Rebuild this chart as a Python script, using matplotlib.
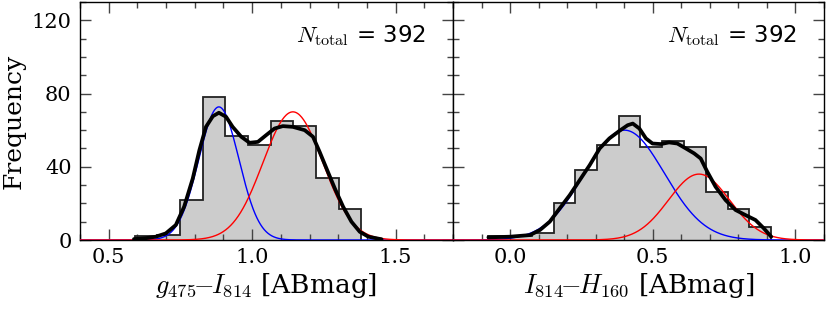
import numpy as np
import matplotlib
matplotlib.use("Agg")
import matplotlib.pyplot as plt
from matplotlib.ticker import MultipleLocator

plt.rcParams['font.family'] = 'DejaVu Serif'
plt.rcParams['mathtext.fontset'] = 'cm'

# ---------------- data ----------------
# left panel: g475 - I814
left_edges = [0.590, 0.669, 0.748, 0.827, 0.906, 0.985, 1.064, 1.143, 1.222, 1.301, 1.380]
left_counts = [2, 3, 22, 78, 57, 52, 65, 62, 34, 17]
left_kde_x = [0.588, 0.630, 0.664, 0.699, 0.734, 0.763, 0.793, 0.816, 0.839, 0.863, 0.884,
              0.909, 0.932, 0.962, 0.991, 1.020, 1.049, 1.078, 1.107, 1.142, 1.183, 1.212,
              1.235, 1.259, 1.288, 1.317, 1.346, 1.375, 1.405, 1.451]
left_kde_y = [0.5, 1.0, 1.8, 3.6, 8.2, 18.2, 33.6, 49.0, 61.8, 67.6, 69.5,
              67.3, 61.8, 56.4, 53.1, 53.6, 57.3, 60.9, 62.2, 61.8, 60.0, 56.4,
              48.2, 39.1, 28.2, 18.2, 10.0, 4.5, 1.8, 0.4]
left_blue = (0.884, 0.070, 72.7)   # mean, sigma, amplitude
left_red = (1.142, 0.104, 70.0)

# right panel: I814 - H160
right_edges = [-0.076, 0.000, 0.076, 0.153, 0.229, 0.305, 0.381, 0.457, 0.534, 0.610,
               0.686, 0.762, 0.838, 0.914]
right_counts = [2, 2, 4, 20, 38, 52, 68, 51, 54, 51, 26, 17, 7]
right_kde_x = [-0.076, 0.000, 0.070, 0.105, 0.139, 0.174, 0.209, 0.244, 0.279, 0.314,
               0.348, 0.383, 0.412, 0.430, 0.453, 0.476, 0.499, 0.528, 0.557, 0.586,
               0.616, 0.645, 0.668, 0.691, 0.720, 0.755, 0.790, 0.825, 0.860, 0.889, 0.915]
right_kde_y = [1.45, 1.8, 2.7, 5.5, 10.0, 17.3, 24.5, 32.7, 40.9, 50.0,
               55.5, 59.6, 62.7, 63.6, 60.9, 55.5, 52.7, 52.4, 53.3, 52.7,
               50.0, 47.3, 44.5, 37.3, 29.1, 21.8, 16.4, 13.6, 10.9, 6.4, 1.8]
right_blue = (0.401, 0.140, 60.0)
right_red = (0.662, 0.107, 36.0)

n_total = 392
left_xlabel = r'$g_{475}\!\!-\!\!I_{814}$ [ABmag]'
right_xlabel = r'$I_{814}\!\!-\!\!H_{160}$ [ABmag]'
y_ticks = [0, 40, 80, 120]
left_xticks = [0.5, 1.0, 1.5]
right_xticks = [0.0, 0.5, 1.0]

# ---------------- plot ----------------
fig = plt.figure(figsize=(8.28, 3.11), dpi=100)
ax1 = fig.add_axes([80/828, 1-240/311, 373/828, 238/311])
ax2 = fig.add_axes([453/828, 1-240/311, 371/828, 238/311])


def gauss(x, p):
    mu, sig, amp = p
    return amp * np.exp(-0.5 * ((x - mu) / sig) ** 2)


def panel(ax, edges, counts, kx, ky, blue, red, xlim, xticks):
    ax.stairs(counts, edges, fill=True, color='#cccccc', zorder=1)
    ax.stairs(counts, edges, fill=False, color='#222222', lw=1.3, zorder=2)
    xx = np.linspace(xlim[0], xlim[1], 600)
    ax.plot(xx, gauss(xx, blue), color='blue', lw=1.0, zorder=3)
    ax.plot(xx, gauss(xx, red), color='red', lw=1.0, zorder=3)
    ax.plot(kx, ky, color='black', lw=2.7, zorder=4, solid_capstyle='round',
            solid_joinstyle='round')
    ax.set_xlim(*xlim)
    ax.set_ylim(0, 130)
    ax.set_xticks(xticks)
    ax.set_yticks(y_ticks)
    ax.xaxis.set_minor_locator(MultipleLocator(0.1))
    ax.yaxis.set_minor_locator(MultipleLocator(10))
    ax.tick_params(which='both', direction='in', top=True, right=True,
                   color='#444444', labelsize=15, pad=6)
    ax.tick_params(which='major', length=8, width=1.0)
    ax.tick_params(which='minor', length=4, width=1.0)
    for s in ax.spines.values():
        s.set_linewidth(1.0)
    ax.text(0.925, 0.83, r'$N_{\rm total}$ = %d' % n_total, transform=ax.transAxes,
            ha='right', va='baseline', fontsize=16.5, family='DejaVu Sans')


panel(ax1, left_edges, left_counts, left_kde_x, left_kde_y, left_blue, left_red,
      (0.4, 1.7), left_xticks)
panel(ax2, right_edges, right_counts, right_kde_x, right_kde_y, right_blue, right_red,
      (-0.2, 1.1), right_xticks)
ax2.tick_params(labelleft=False)
ax1.set_ylabel('Frequency', fontsize=18, labelpad=4)
ax1.set_xlabel(left_xlabel, fontsize=19, labelpad=3)
ax2.set_xlabel(right_xlabel, fontsize=19, labelpad=3)

fig.savefig('out.png', dpi=100)
